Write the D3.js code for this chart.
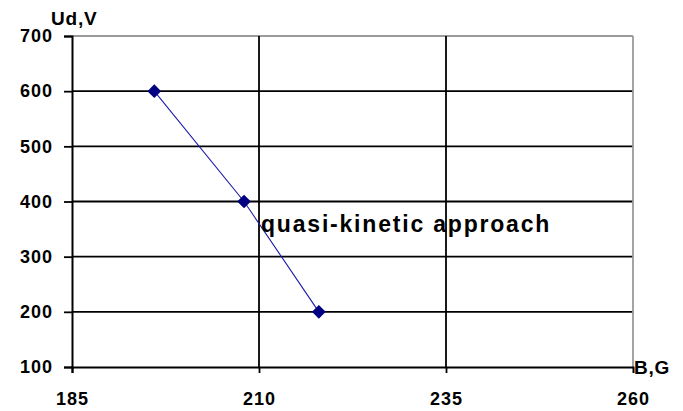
<!DOCTYPE html>
<html>
<head>
<meta charset="utf-8">
<script src="https://cdn.jsdelivr.net/npm/d3@7"></script>
<style>
  html, body { margin: 0; padding: 0; background: #fff; }
  svg { display: block; }
  text { font-family: "Liberation Sans", Arial, sans-serif; fill: #000; font-weight: bold; }
</style>
</head>
<body>
<svg id="chart" width="683" height="411"></svg>
<script>
// Discharge voltage vs magnetic field
const fieldB = [196, 208, 218];          // B, G
const voltageUd = [600, 400, 200];       // Ud, V
const xTicks = [185, 210, 235, 260];
const yTicks = [100, 200, 300, 400, 500, 600, 700];
const seriesLabel = "quasi-kinetic approach";

const svg = d3.select("#chart");
const margin = { left: 72, right: 50, top: 36, bottom: 44 };
const W = 683, H = 411;

const x = d3.scaleLinear().domain([185, 260]).range([margin.left, W - margin.right]);
const y = d3.scaleLinear().domain([100, 700]).range([H - margin.bottom, margin.top]);

// Horizontal gridlines (top one grey as the plot frame)
svg.append("g").selectAll("line").data(yTicks.filter(v => v > 100)).join("line")
  .attr("x1", x(185)).attr("x2", x(260))
  .attr("y1", d => y(d)).attr("y2", d => y(d))
  .attr("stroke", d => d === 700 ? "#9a9a9a" : "#000")
  .attr("stroke-width", 1.8);

// Vertical gridlines (right one grey as the plot frame)
svg.append("g").selectAll("line").data(xTicks.filter(v => v > 185)).join("line")
  .attr("x1", d => x(d)).attr("x2", d => x(d))
  .attr("y1", y(700)).attr("y2", y(100))
  .attr("stroke", d => d === 260 ? "#9a9a9a" : "#000")
  .attr("stroke-width", 1.8);

// Axes
const yAxis = d3.axisLeft(y).tickValues(yTicks).tickSize(8).tickPadding(11)
  .tickFormat(d3.format("d"));
const gy = svg.append("g").attr("transform", `translate(${x(185)},0)`).call(yAxis);
gy.select(".domain").attr("stroke", "#000").attr("stroke-width", 2);
gy.selectAll(".tick line").attr("stroke", "#000").attr("stroke-width", 1.8);
gy.selectAll(".tick text").attr("font-family", null)
  .style("font-size", "18px").style("letter-spacing", "1px");

const xAxis = d3.axisBottom(x).tickValues(xTicks).tickSize(6).tickPadding(19)
  .tickFormat(d3.format("d"));
const gx = svg.append("g").attr("transform", `translate(0,${y(100)})`).call(xAxis);
gx.select(".domain").attr("stroke", "#000").attr("stroke-width", 2);
gx.selectAll(".tick line").attr("stroke", d => d === 260 ? "none" : "#000").attr("stroke-width", 1.8);
gx.selectAll(".tick text").attr("font-family", null)
  .style("font-size", "18px").style("letter-spacing", "1px");

// Axis titles
svg.append("text").attr("x", 51).attr("y", 25)
  .style("font-size", "19px").style("letter-spacing", "0.8px").text("Ud,V");
svg.append("text").attr("x", x(260) + 1).attr("y", y(100) + 7)
  .style("font-size", "19px").style("letter-spacing", "0.8px").text("B,G");

// Data line and diamond markers
const pts = fieldB.map((b, i) => ({ b, u: voltageUd[i] }));
svg.append("path").datum(pts)
  .attr("fill", "none").attr("stroke", "#1a1aa8").attr("stroke-width", 1.1)
  .attr("d", d3.line().x(d => x(d.b)).y(d => y(d.u)));

svg.append("g").selectAll("path").data(pts).join("path")
  .attr("transform", d => `translate(${x(d.b)},${y(d.u)})`)
  .attr("d", d3.symbol(d3.symbolDiamond2, 120))
  .attr("fill", "#000080");

// Series annotation
svg.append("text").attr("x", x(210) + 2).attr("y", 232)
  .style("font-size", "23px").style("letter-spacing", "1.8px").text(seriesLabel);
</script>
</body>
</html>
